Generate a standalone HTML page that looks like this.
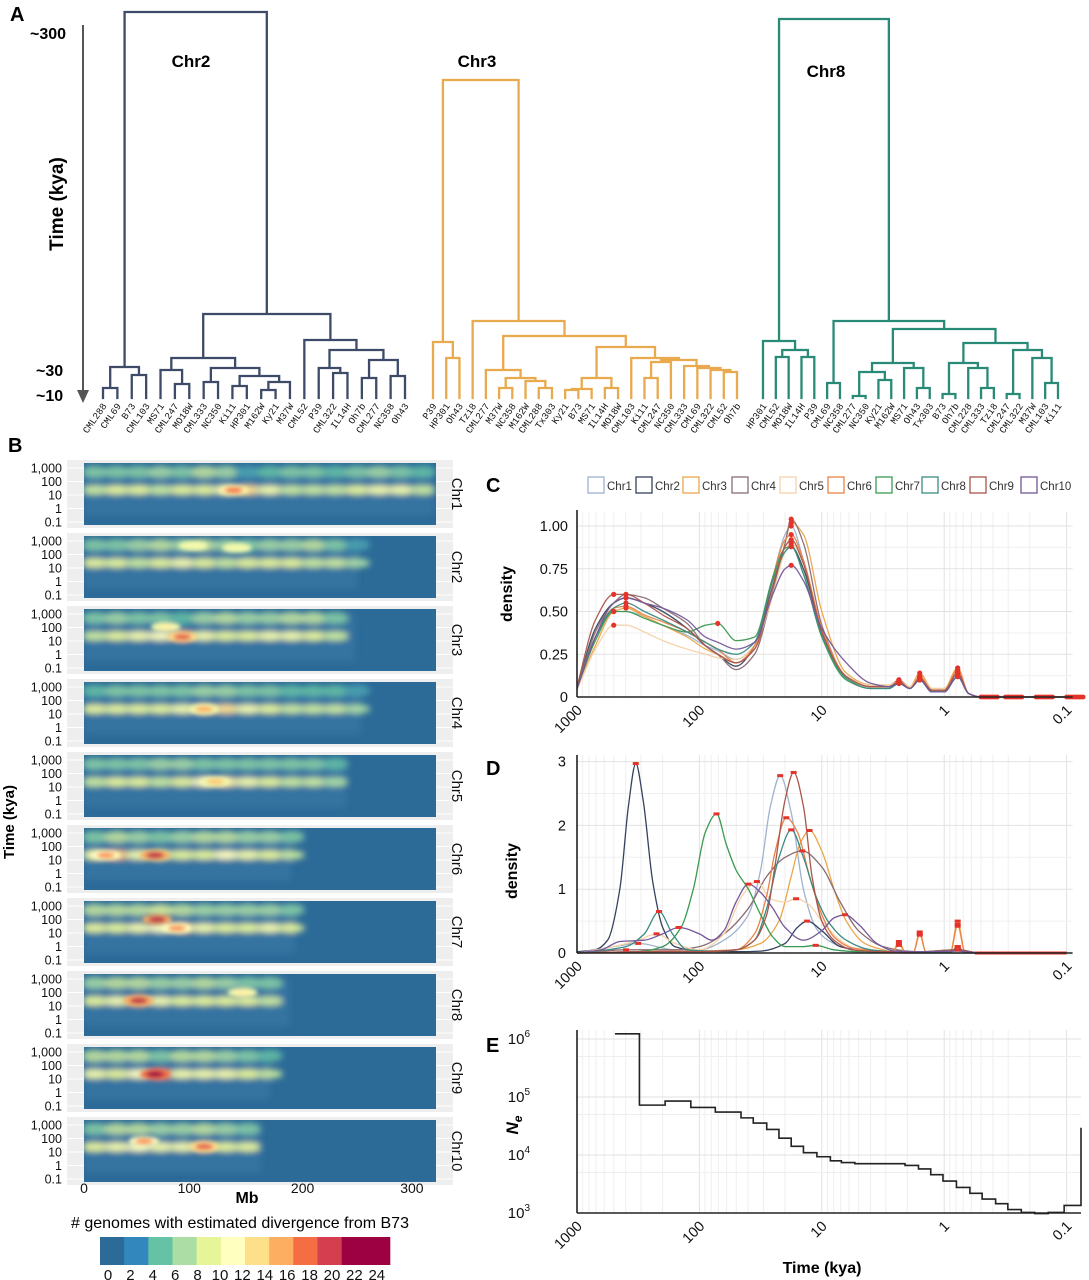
<!DOCTYPE html>
<html><head><meta charset="utf-8">
<style>
html,body{margin:0;padding:0;background:#fff;}
svg{display:block;font-family:"Liberation Sans",sans-serif;}
.b{font-weight:bold;}
</style></head>
<body>
<svg id="fig" xmlns="http://www.w3.org/2000/svg" width="1089" height="1280" viewBox="0 0 1089 1280">
<defs>
<filter id="blur" x="-20%" y="-50%" width="140%" height="200%"><feGaussianBlur stdDeviation="3.2"/></filter>
<filter id="blur2" x="-20%" y="-50%" width="140%" height="200%"><feGaussianBlur stdDeviation="2"/></filter>
</defs>
<text x="10" y="21" font-size="20" class="b">A</text>
<text x="30" y="39" font-size="16" class="b">~300</text>
<text x="36" y="376" font-size="16" class="b">~30</text>
<text x="36" y="401" font-size="16" class="b">~10</text>
<line x1="83" y1="25" x2="83" y2="392" stroke="#555" stroke-width="2"/>
<polygon points="77,390 89,390 83,403" fill="#555"/>
<text transform="translate(63,204) rotate(-90)" text-anchor="middle" font-size="19" class="b">Time (kya)</text>
<text x="191" y="67" font-size="17" class="b" text-anchor="middle">Chr2</text>
<text x="477" y="67" font-size="17" class="b" text-anchor="middle">Chr3</text>
<text x="826" y="77" font-size="17" class="b" text-anchor="middle">Chr8</text>
<g id="trees"></g>

<text x="8" y="452" font-size="20" class="b">B</text>
<g id="heat"></g>
<text transform="translate(14,822) rotate(-90)" text-anchor="middle" font-size="15" class="b">Time (kya)</text>
<text x="247" y="1203" font-size="16" class="b" text-anchor="middle">Mb</text>
<text x="240" y="1228" font-size="16" text-anchor="middle"># genomes with estimated divergence from B73</text>
<g id="cbar"></g>

<text x="486" y="492" font-size="20" class="b">C</text>
<g id="legendC"></g>
<g id="plotC"></g>
<text transform="translate(512,594) rotate(-90)" text-anchor="middle" font-size="16" class="b">density</text>

<text x="486" y="775" font-size="20" class="b">D</text>
<g id="plotD"></g>
<text transform="translate(517,871) rotate(-90)" text-anchor="middle" font-size="16" class="b">density</text>

<text x="486" y="1052" font-size="20" class="b">E</text>
<g id="plotE"></g>
<text transform="translate(518,1125) rotate(-90)" text-anchor="middle" font-size="17" class="b" font-style="italic">N<tspan font-size="12" dy="4">e</tspan></text>
<text x="822" y="1273" font-size="16" class="b" text-anchor="middle">Time (kya)</text>
</svg>
<script>
// ---------- data: dendrograms ----------
const treeChr2 = [[["CML288","CML69",10],["B73","CML103",23],31],
  [[["MS71",["CML247","MO18W",14],28],[["CML333","NC350",16],[["Ki11","HP301",12],[["M162W","Ky21",8],"M37W",16],22],30],40],
   ["CML52",[["P39",["CML322","IL14H",25],30],[["Oh7b","CML277",20],["NC358","Oh43",22],38],48],58],84],386];
const treeChr3 = [["P39",["HP301","Oh43",40],56],
  ["Tzi8",[["CML277",[["M37W","NC358",10],["M162W",["CML288","Tx303",10],17],20],28],
   [[[["Ky21","B73",8],"MS71",9],["IL14H","MO18W",10],20],["CML103",[[["Ki11","CML247",20],"NC350",36],["CML333",["CML69",["CML322",["CML52","Oh7b",26],28],30],32],38],40],51],62],77],318];
const treeChr8 = [["HP301",[["CML52","MO18W",41],["IL14H","P39",41],48],57],
  [["CML69","NC358",15],[[[["CML277","NC350",2],["Ky21","M162W",18],26],["MS71",["Oh43","Tx303",10],30],35],
   [[["B73","Oh7b",4],["CML228",["CML333","Tzi8",10],30],35],[["CML247","CML322",4],["M37W",["CML103","Ki11",15],40],48],55],69],77],379];
const treeNames = ["chr2","chr3","chr8"];
const treeColors = ["#3d4b69","#e9a94d","#2a8a78"];
const treeLeafRange = [[103,405],[433,737],[763,1058]];

// ---------- data: heatmaps ----------
const hmChroms = ["Chr1","Chr2","Chr3","Chr4","Chr5","Chr6","Chr7","Chr8","Chr9","Chr10"];
const hmLengthMb = [320,250,248,253,240,190,193,188,170,162];
const hmLowBand = [
 [7,8,8,7,8,8,9,12,9,7,7,7,8,9,9,7],
 [8,8,7,8,9,8,7,8,8,8,7,7,6],
 [7,8,9,10,14,9,8,8,9,9,8,7,6],
 [8,8,8,8,9,11,12,9,8,7,7,7,6],
 [7,8,8,7,8,10,11,9,8,7,7,6],
 [9,13,9,8,8,8,10,9,8,7],
 [8,8,9,10,12,9,8,8,9,8],
 [8,9,13,9,8,8,8,8,7,7],
 [9,8,10,15,9,9,9,8,7],
 [8,9,10,9,9,12,8,8,7]];
const hmHighBand = [
 [5,5,5,6,5,7,6,3,4,5,5,4,5,6,5,4],
 [5,5,6,7,6,7,6,5,6,6,7,5,3],
 [5,6,5,5,4,6,7,6,6,7,7,5,4],
 [4,5,5,5,5,6,6,5,5,4,4,4,3],
 [5,5,5,6,6,5,5,5,5,5,5,4],
 [5,7,6,5,6,7,7,6,6,5],
 [7,7,7,8,7,6,6,6,6,5],
 [6,7,7,6,6,7,6,5,5,4],
 [7,7,7,5,7,7,6,5,4],
 [5,7,7,6,6,7,6,5,4]];
const hmHotMb = [[137],[100,140],[90,75],[110],[120],[20,65],[67,85],[50,145],[65],[55,110]];
const hmHotLogT = [[1.35],[2.65,2.5],[1.3,2.05],[1.35],[1.4],[1.35,1.35],[2.0,1.35],[1.4,2.0],[1.35],[1.8,1.4]];
const hmHotCount = [[16],[9,9],[17,11],[14],[13],[15,19],[19,15],[19,11],[21],[15,17]];
const cbarLabels = [0,2,4,6,8,10,12,14,16,18,20,22,24];
const cbarColors = ["#2c6a98","#3288bd","#66c2a5","#abdda4","#e6f598","#ffffbf","#fee08b","#fdae61","#f46d43","#d53e4f","#9e0142","#9e0142"];

// ---------- data: panel C ----------
const chrNames = ["Chr1","Chr2","Chr3","Chr4","Chr5","Chr6","Chr7","Chr8","Chr9","Chr10"];
const chrColors = ["#9fb2cf","#34425f","#eaa64a","#8a6c74","#f6d2a8","#ea8446","#3a9a52","#3b8b82","#a9554c","#74589a"];
const cLogTime = [3.0,2.85,2.7,2.6,2.45,2.3,2.1,1.95,1.85,1.7,1.55,1.4,1.3,1.25,1.15,1.0,0.8,0.6,0.45,0.37,0.28,0.2,0.1,0.0,-0.11,-0.2,-0.3,-1.0];
const cDensity = [
 [.05,.35,.5,.5,.47,.42,.36,.3,.27,.22,.3,.7,.95,1.0,.8,.4,.12,.07,.06,.08,.05,.12,.04,.04,.14,.02,0,0],
 [.05,.4,.55,.58,.55,.5,.4,.3,.25,.18,.3,.65,.85,.88,.75,.38,.12,.06,.06,.08,.05,.1,.03,.03,.12,.02,0,0],
 [.05,.3,.5,.52,.47,.42,.35,.28,.25,.2,.28,.6,.9,1.02,.95,.5,.14,.07,.07,.1,.06,.14,.05,.05,.17,.02,0,0],
 [.05,.38,.55,.6,.58,.52,.43,.3,.25,.16,.25,.62,.9,1.04,.9,.42,.12,.06,.06,.1,.05,.12,.04,.04,.14,.02,0,0],
 [.04,.28,.42,.42,.38,.33,.28,.25,.23,.22,.3,.6,.85,.9,.78,.4,.12,.07,.07,.09,.06,.12,.05,.05,.15,.02,0,0],
 [.05,.35,.52,.53,.48,.44,.38,.32,.28,.2,.3,.7,.92,.95,.8,.4,.12,.06,.06,.09,.05,.12,.04,.04,.16,.02,0,0],
 [.05,.33,.5,.5,.46,.42,.38,.42,.43,.33,.35,.7,.87,.88,.72,.35,.1,.05,.05,.08,.05,.1,.03,.03,.12,.02,0,0],
 [.05,.35,.52,.55,.5,.45,.38,.32,.28,.25,.32,.68,.85,.88,.72,.36,.11,.05,.05,.08,.05,.1,.03,.03,.12,.02,0,0],
 [.06,.45,.6,.6,.55,.48,.4,.3,.25,.2,.28,.65,.88,.92,.78,.38,.12,.06,.06,.09,.05,.11,.04,.04,.14,.02,0,0],
 [.05,.35,.55,.58,.55,.52,.45,.35,.32,.28,.32,.6,.75,.77,.68,.4,.2,.08,.06,.08,.05,.1,.03,.03,.12,.02,0,0]];

// ---------- data: panel D ----------
const dLogTime = [
 [3.0,2.7,2.5,2.2,2.0,1.8,1.6,1.5,1.42,1.34,1.25,1.15,1.05,0.95,0.8,0.6,0.4,0.2,0.05,-0.05,-0.11,-0.17,-0.3,-1],
 [3.0,2.85,2.75,2.65,2.58,2.52,2.46,2.38,2.3,2.2,2.0,1.7,1.5,1.3,1.2,1.12,1.0,0.85,0.6,0.3,0,-1],
 [3.0,2.5,2.0,1.7,1.5,1.35,1.25,1.18,1.1,1.0,0.9,0.8,0.65,0.5,0.42,0.37,0.32,0.25,0.2,0.15,0.05,-0.05,-0.11,-0.17,-0.3,-1],
 [3.0,2.6,2.2,2.0,1.8,1.6,1.45,1.3,1.16,1.0,0.85,0.7,0.5,0.3,0.05,-0.05,-0.11,-0.17,-0.3,-1],
 [3.0,2.7,2.5,2.35,2.2,2.0,1.8,1.65,1.53,1.42,1.3,1.21,1.1,1.0,0.85,0.7,0.5,0.42,0.37,0.32,0.25,0.2,0.15,0.05,-0.05,-0.11,-0.17,-0.3,-1],
 [3.0,2.5,2.0,1.7,1.55,1.45,1.38,1.29,1.2,1.1,1.0,0.9,0.75,0.5,0.42,0.37,0.32,0.25,0.2,0.15,0.05,-0.05,-0.11,-0.17,-0.3,-1],
 [3.0,2.5,2.3,2.15,2.05,1.95,1.86,1.78,1.7,1.6,1.5,1.4,1.3,1.15,1.05,0.9,0.7,0.5,0.2,-0.11,-0.3,-1],
 [3.0,2.6,2.45,2.33,2.22,2.1,1.9,1.7,1.55,1.45,1.35,1.25,1.15,1.05,0.95,0.8,0.6,0.4,0.2,0.05,-0.05,-0.11,-0.17,-0.3,-1],
 [3.0,2.5,2.0,1.7,1.55,1.45,1.38,1.3,1.23,1.15,1.08,1.0,0.9,0.75,0.5,0.2,-0.11,-0.3,-1],
 [3.0,2.8,2.65,2.45,2.3,2.17,2.0,1.9,1.8,1.7,1.6,1.5,1.4,1.3,1.15,1.0,0.9,0.81,0.7,0.55,0.4,0.2,-0.11,-0.3,-1]];
const dDensity = [
 [0,0.1,0.15,0.05,0.05,0.2,0.6,1.3,2.3,2.78,2.2,1.0,0.4,0.2,0.08,0.03,0.02,0.02,0.01,0.01,0.1,0.01,0,0],
 [0.02,0.05,0.2,1.0,2.3,2.97,2.4,1.1,0.4,0.1,0.03,0.02,0.03,0.15,0.4,0.5,0.35,0.1,0.02,0,0,0],
 [0,0.02,0.03,0.05,0.15,0.5,1.2,1.7,1.92,1.6,1.0,0.5,0.15,0.05,0.02,0.18,0.02,0.02,0.33,0.02,0.01,0.01,0.5,0.01,0,0],
 [0,0.05,0.05,0.1,0.3,0.7,1.2,1.5,1.6,1.35,0.8,0.35,0.1,0.03,0.01,0.01,0.1,0.01,0,0],
 [0,0.1,0.2,0.3,0.15,0.05,0.3,0.9,1.12,0.85,0.8,0.85,0.75,0.5,0.2,0.05,0.03,0.02,0.12,0.02,0.02,0.28,0.02,0.01,0.01,0.42,0.01,0,0],
 [0,0.02,0.03,0.05,0.3,0.9,1.6,2.12,1.9,1.2,0.6,0.25,0.08,0.03,0.02,0.15,0.02,0.02,0.3,0.02,0.01,0.01,0.45,0.01,0,0],
 [0,0.02,0.1,0.4,1.0,1.9,2.18,1.7,1.3,1.0,0.6,0.25,0.1,0.1,0.12,0.05,0.02,0.02,0.02,0.05,0,0],
 [0,0.1,0.3,0.65,0.3,0.05,0.03,0.05,0.2,0.7,1.5,1.93,1.5,0.9,0.5,0.2,0.05,0.02,0.02,0.01,0.01,0.1,0.01,0,0],
 [0,0.02,0.02,0.05,0.2,0.6,1.4,2.4,2.83,2.3,1.2,0.5,0.2,0.05,0.02,0.02,0.05,0,0],
 [0,0.05,0.18,0.2,0.3,0.4,0.3,0.2,0.35,0.8,1.08,0.95,0.7,0.4,0.2,0.35,0.55,0.6,0.45,0.15,0.03,0.02,0.03,0,0]];

// ---------- data: panel E (step function) ----------
const eStepStartLogT = [2.69,2.49,2.28,2.07,1.87,1.66,1.56,1.45,1.35,1.25,1.15,1.04,0.93,0.84,0.73,0.32,0.21,0.11,0.01,-0.10,-0.21,-0.31,-0.42,-0.52,-0.63,-0.74,-0.85,-0.98];
const eLogNe = [6.09,4.86,4.93,4.82,4.74,4.64,4.55,4.44,4.29,4.15,4.04,3.97,3.90,3.87,3.85,3.82,3.76,3.66,3.55,3.44,3.34,3.24,3.16,3.06,3.01,2.99,3.01,3.13];
const eEndLogT = -1.13;
const eFinalLogNe = 4.47;

const xTickLabels = ["1000","100","10","1","0.1"];
const cYTicks = [0,0.25,0.5,0.75,1.0];
const cYTickLabels = ["0","0.25","0.50","0.75","1.00"];
const dYTicks = [0,1,2,3];
const eYTicks = [3,4,5,6];

// ---------- helpers ----------
const NS = "http://www.w3.org/2000/svg";
function mk(tag, attrs, parent){ const e=document.createElementNS(NS,tag); for(const k in attrs) e.setAttribute(k,attrs[k]); parent.appendChild(e); return e; }

// ---------- dendrograms ----------
const gT = document.getElementById("trees");
const treeBase = 398;
function yTree(h){ return treeBase - h; }
function layoutTree(node, st){
  if(typeof node === "string"){ const x = st.x0 + st.i*st.dx; st.i++; return {x:x, h:0, leaf:node}; }
  const h = node[node.length-1];
  const kids = node.slice(0,-1).map(n=>layoutTree(n,st));
  return {x:(kids[0].x+kids[kids.length-1].x)/2, h:h, kids:kids};
}
function countLeaves(node){ return typeof node==="string"?1:node.slice(0,-1).reduce((a,n)=>a+countLeaves(n),0); }
[treeChr2,treeChr3,treeChr8].forEach((tree,ti)=>{
  const n = countLeaves(tree);
  const r = treeLeafRange[ti];
  const st = {x0:r[0], dx:(r[1]-r[0])/(n-1), i:0};
  const root = layoutTree(tree, st);
  const g = mk("g",{},gT);
  
  
  let d = "";
  (function walk(nd){
    if(!nd.kids) return;
    const y = yTree(nd.h);
    d += `M${nd.kids[0].x},${y}H${nd.kids[nd.kids.length-1].x}`;
    nd.kids.forEach(k=>{ d += `M${k.x},${y}V${yTree(k.h)}`; walk(k); });
  })(root);
  const p = mk("path",{d:d, fill:"none", stroke:treeColors[ti], "stroke-width":2.3, "stroke-linecap":"square"}, g);
  
  
  (function leaves(nd){
    if(nd.leaf){
      const t = mk("text",{transform:`translate(${nd.x+4},${treeBase+8}) rotate(-55)`, "text-anchor":"end", "font-size":9.5, "font-family":"Liberation Mono, monospace", fill:"#111"}, g);
      t.textContent = nd.leaf;
      
      
      return;
    }
    nd.kids.forEach(leaves);
  })(root);
});

// ---------- heatmaps ----------
const gH = document.getElementById("heat");
const hmX0 = 84, hmX1 = 436, hmMbScale = 1.093, hmTop0 = 463, hmPitch = 73, hmH = 62;
function xMb(mb){ return hmX0 + mb*hmMbScale; }
function yHm(i, logT){ return hmTop0 + i*hmPitch + 5 + (3-logT)*13.5; }
function hexToRgb(h){ return [1,3,5].map(i=>parseInt(h.substr(i,2),16)); }
function countColor(c){
  const f = Math.max(0, Math.min(cbarColors.length-1, c/2));
  const i = Math.min(cbarColors.length-2, Math.floor(f)), t = f-i;
  const a = hexToRgb(cbarColors[i]), b = hexToRgb(cbarColors[i+1]);
  return `rgb(${a.map((v,k)=>Math.round(v+(b[k]-v)*t)).join(",")})`;
}
const hmTickVals = [3,2,1,0,-1], hmTickLabels = ["1,000","100","10","1","0.1"];
hmChroms.forEach((chr,i)=>{
  const top = hmTop0 + i*hmPitch;
  const g = mk("g",{},gH);
  
  
  const bgp = mk("rect",{x:67, y:top-3, width:386, height:hmH+6, fill:"#eeeeee"}, g);
  
  
  hmTickVals.forEach((v,k)=>{
    const gl = mk("line",{x1:67, x2:453, y1:yHm(i,v), y2:yHm(i,v), stroke:"#fff", "stroke-width":1}, g);
    
    
    const tl = mk("text",{x:62, y:yHm(i,v)+4.5, "text-anchor":"end", "font-size":12.5, fill:"#111"}, g);
    tl.textContent = hmTickLabels[k];
    
    
  });
  const cid = "clip"+i;
  const cp = mk("clipPath",{id:cid}, g);
  mk("rect",{x:hmX0, y:top, width:hmX1-hmX0, height:hmH}, cp);
  const bg = mk("rect",{x:hmX0, y:top, width:hmX1-hmX0, height:hmH, fill:cbarColors[0]}, g);
  
  
  const inner = mk("g",{"clip-path":`url(#${cid})`}, g);
  const blurG = mk("g",{filter:"url(#blur)"}, inner);
  const base = mk("rect",{x:hmX0, y:yHm(i,2.95), width:hmLengthMb[i]*hmMbScale, height:(yHm(i,-0.5)-yHm(i,2.95)), fill:"#3673a1"}, blurG);
  
  
  const highBand = hmHighBand[i], lowBand = hmLowBand[i];
  highBand.forEach((c,k)=>{
    const mb = k*20+10; if(mb>hmLengthMb[i]) return;
    const e = mk("ellipse",{cx:xMb(mb), cy:yHm(i,2.72), rx:13, ry:6, fill:countColor(c), opacity:0.85}, blurG);
    
    
  });
  lowBand.forEach((c,k)=>{
    const mb = k*20+10; if(mb>hmLengthMb[i]) return;
    const e = mk("ellipse",{cx:xMb(mb), cy:yHm(i,1.37), rx:13, ry:4.2, fill:countColor(c)}, blurG);
    
    
  });
  const hotG = mk("g",{filter:"url(#blur2)"}, inner);
  hmHotMb[i].forEach((mb,k)=>{
    const c = hmHotCount[i][k];
    const e1 = mk("ellipse",{cx:xMb(mb), cy:yHm(i,hmHotLogT[i][k]), rx:15, ry:5, fill:countColor(Math.max(9,c-5))}, hotG);
    
    
    const e2 = mk("ellipse",{cx:xMb(mb), cy:yHm(i,hmHotLogT[i][k]), rx:9, ry:3, fill:countColor(c)}, hotG);
    
    
  });
  const lab = mk("text",{transform:`translate(${452},${top+hmH/2}) rotate(90)`, "text-anchor":"middle", "font-size":15, fill:"#111"}, g);
  lab.textContent = chr;
  
  
});
[0,100,200,300].forEach(mb=>{
  const t = mk("text",{x:xMb(mb)-(mb===100?4:0), y:1193, "text-anchor":"middle", "font-size":14, fill:"#111"}, gH);
  t.textContent = mb;
  
  
});
const gC = document.getElementById("cbar");
const cbX0 = 100, cbW = 290/cbarColors.length;
cbarColors.forEach((c,k)=>{
  const r = mk("rect",{x:cbX0+k*cbW, y:1237, width:cbW+0.3, height:28, fill:c}, gC);
  
  
});
cbarLabels.forEach((v,k)=>{
  const t = mk("text",{x:108+k*22.4, y:1280, "text-anchor":"middle", "font-size":15, fill:"#111"}, gC);
  t.textContent = v;
  
  
});

// ---------- shared log-time axis ----------
const ax0 = 577, decade = 122.4;
function xT(logT){ return ax0 + (3-logT)*decade; }
function monoPath(pts){
  const n = pts.length; if(n<2) return "";
  const dx=[], m=[], t=[];
  for(let i=0;i<n-1;i++){ dx[i]=pts[i+1][0]-pts[i][0]; m[i]=(pts[i+1][1]-pts[i][1])/dx[i]; }
  t[0]=m[0]; t[n-1]=m[n-2];
  for(let i=1;i<n-1;i++){
    if(m[i-1]*m[i]<=0) t[i]=0;
    else t[i]=3*(dx[i-1]+dx[i])/((2*dx[i]+dx[i-1])/m[i-1]+(dx[i]+2*dx[i-1])/m[i]);
  }
  let d=`M${pts[0][0].toFixed(1)},${pts[0][1].toFixed(1)}`;
  for(let i=0;i<n-1;i++){
    const h=dx[i]/3;
    d+=`C${(pts[i][0]+h).toFixed(1)},${(pts[i][1]+t[i]*h).toFixed(1)},${(pts[i+1][0]-h).toFixed(1)},${(pts[i+1][1]-t[i+1]*h).toFixed(1)},${pts[i+1][0].toFixed(1)},${pts[i+1][1].toFixed(1)}`;
  }
  return d;
}
function drawLogGrid(g, yTop, yBot, xEnd){
  for(let dec=3; dec>=0; dec--){
    for(let m=1;m<=9;m++){
      const lt = dec-1+Math.log10(m);
      const x = xT(lt);
      if(x<ax0 || x>xEnd) continue;
      const l = mk("line",{x1:x,x2:x,y1:yTop,y2:yBot,stroke:m===1?"#e2e2e2":"#efefef","stroke-width":1}, g);
      
      
    }
  }
}
function drawXTicks(g, yBase){
  xTickLabels.forEach((lab,k)=>{
    const x = xT(3-k);
    const t = mk("text",{transform:`translate(${x+6},${yBase+14}) rotate(-45)`, "text-anchor":"end", "font-size":14.5, fill:"#111"}, g);
    t.textContent = lab;
    
    
  });
}
function axesLines(g, yTop, yBot, xEnd){
  const a = mk("line",{x1:ax0,x2:ax0,y1:yTop,y2:yBot,stroke:"#222","stroke-width":1.6}, g);
  
  
  const b = mk("line",{x1:ax0,x2:xEnd,y1:yBot,y2:yBot,stroke:"#222","stroke-width":1.6}, g);
  
  
}
function localMaxIdx(vals){
  const out=[];
  for(let i=1;i<vals.length-1;i++) if(vals[i]>vals[i-1] && vals[i]>=vals[i+1] && vals[i]>0.03) out.push(i);
  return out;
}

// ---------- legend C ----------
const gL = document.getElementById("legendC");
const legX = [588,636,683,732,780,828,876,922,970,1021];
chrNames.forEach((nm,k)=>{
  const it = mk("g",{}, gL);
  
  
  const r = mk("rect",{x:legX[k], y:477, width:16, height:16, fill:"#fff", stroke:chrColors[k], "stroke-width":1.3}, it);
  
  
  const t = mk("text",{x:legX[k]+19, y:490, "font-size":11.5, fill:"#333"}, it);
  t.textContent = nm;
  
  
});

// ---------- panel C ----------
(function(){
  const g = document.getElementById("plotC");
  const y0 = 697, k = 171;
  const yC = d => y0 - d*k;
  const xEnd = xT(-1)+6;
  drawLogGrid(g, 512, y0, xEnd);
  for(let v=0; v<=1.0001; v+=0.125){
    const l = mk("line",{x1:ax0,x2:xEnd,y1:yC(v),y2:yC(v),stroke:(Math.round(v*8)%2===0)?"#e2e2e2":"#f0f0f0"}, g);
    
    
  }
  cYTicks.forEach((v,i)=>{
    const t = mk("text",{x:568, y:yC(v)+5, "text-anchor":"end", "font-size":14.5, fill:"#111"}, g);
    t.textContent = cYTickLabels[i];
    
    
  });
  cDensity.forEach((vals,s)=>{
    const pts = cLogTime.map((lt,i)=>[xT(lt), yC(vals[i])]);
    const p = mk("path",{d:monoPath(pts), fill:"none", stroke:chrColors[s], "stroke-width":1.3, opacity:0.95}, g);
    
    
  });
  cDensity.forEach((vals,s)=>{
    localMaxIdx(vals).forEach(i=>{
      const c = mk("circle",{cx:xT(cLogTime[i]), cy:yC(vals[i]), r:2.6, fill:"#e4332a"}, g);
      
      
    });
    cLogTime.forEach((lt,i)=>{ if(lt<-0.25 && vals[i]===0){
      [0,0.2,0.45].forEach(off=>{
        if(lt-off<-1) return;
        const c = mk("circle",{cx:xT(lt-off- s*0.015), cy:yC(0), r:2.4, fill:"#e4332a"}, g);
        
        
      });
    }});
  });
  axesLines(g, 510, y0, xEnd);
  drawXTicks(g, y0);
})();

// ---------- panel D ----------
(function(){
  const g = document.getElementById("plotD");
  const y0 = 953, k = 63.8;
  const yD = d => y0 - d*k;
  const xEnd = xT(-1)+6;
  drawLogGrid(g, 755, y0, xEnd);
  for(let v=0; v<=3.0001; v+=0.5){
    const l = mk("line",{x1:ax0,x2:xEnd,y1:yD(v),y2:yD(v),stroke:(Math.round(v*2)%2===0)?"#e2e2e2":"#f0f0f0"}, g);
    
    
  }
  dYTicks.forEach(v=>{
    const t = mk("text",{x:566, y:yD(v)+5, "text-anchor":"end", "font-size":14.5, fill:"#111"}, g);
    t.textContent = v;
    
    
  });
  dDensity.forEach((vals,s)=>{
    const pts = dLogTime[s].map((lt,i)=>[xT(lt), yD(vals[i])]);
    const p = mk("path",{d:monoPath(pts), fill:"none", stroke:chrColors[s], "stroke-width":1.3}, g);
    
    
  });
  dDensity.forEach((vals,s)=>{
    localMaxIdx(vals).forEach(i=>{
      const r = mk("rect",{x:xT(dLogTime[s][i])-3, y:yD(vals[i])-1.5, width:6, height:3, fill:"#e4332a"}, g);
      
      
    });
  });
  const zl = mk("line",{x1:xT(-0.25),x2:xT(-1),y1:y0,y2:y0,stroke:"#e4332a","stroke-width":3}, g);
  
  
  axesLines(g, 755, y0, xEnd);
  drawXTicks(g, y0);
})();

// ---------- panel E ----------
(function(){
  const g = document.getElementById("plotE");
  const y0 = 1213, k = 58;
  const yE = l => y0 - (l-3)*k;
  const xEnd = 1081;
  drawLogGrid(g, 1030, y0, xEnd);
  for(let dec=3; dec<=6; dec++){
    for(let m=1;m<=9;m+=(m===1?4:5)){
      const lv = dec+Math.log10(m);
      if(lv>6.3) continue;
      const l = mk("line",{x1:ax0,x2:xEnd,y1:yE(lv),y2:yE(lv),stroke:m===1?"#e2e2e2":"#efefef"}, g);
      
      
    }
  }
  eYTicks.forEach(v=>{
    const t = mk("text",{x:530, y:yE(v)+5, "text-anchor":"end", "font-size":15, fill:"#111"}, g);
    t.textContent = "10";
    const s = mk("tspan",{dy:-7, "font-size":10}, t);
    s.textContent = String(v);
    
    
  });
  let d = "";
  eStepStartLogT.forEach((lt,i)=>{
    const xs = xT(lt), xe = xT(i<eStepStartLogT.length-1 ? eStepStartLogT[i+1] : eEndLogT);
    const y = yE(eLogNe[i]);
    d += (i===0 ? `M${xs},${y}` : `V${y}`) + `H${Math.min(xe,xEnd)}`;
  });
  d += `V${yE(eFinalLogNe)}`;
  const p = mk("path",{d:d, fill:"none", stroke:"#222", "stroke-width":1.6}, g);
  
  
  axesLines(g, 1030, y0, xEnd);
  drawXTicks(g, y0);
})();
</script>
</body></html>
